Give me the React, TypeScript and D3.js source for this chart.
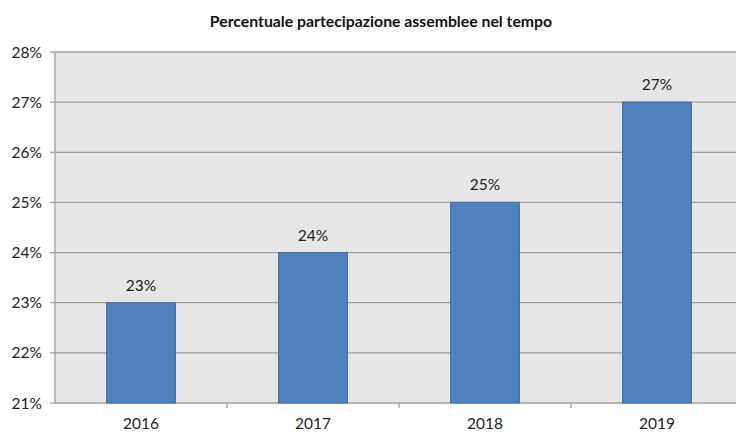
import React from "react";
import * as d3 from "d3";

const years = ["2016", "2017", "2018", "2019"];
const values = [23, 24, 25, 27];
const yTicks = [21, 22, 23, 24, 25, 26, 27, 28];
const title = "Percentuale partecipazione assemblee nel tempo";

export default function App() {
  const W = 736, H = 432;
  const left = 55, right = 743, top = 52, bottom = 403;
  const x = d3.scaleBand<string>().domain(years).range([left, right]).paddingInner(0.6).paddingOuter(0.3);
  const y = d3.scaleLinear().domain([21, 28]).range([bottom, top]);
  const step = x.step();
  const font = "Lato, 'Open Sans', sans-serif";
  return (
    <svg width={W} height={H} style={{ position: "absolute", left: 0, top: 0, background: "#fff" }}>
      <rect x={left} y={top} width={right - left} height={bottom - top} fill="#e6e6e6" />
      {yTicks.map((t) => (
        <g key={t}>
          <line x1={left} x2={right} y1={y(t)} y2={y(t)} stroke="#a0a0a0" strokeWidth={1.3} />
          <line x1={left - 5} x2={left} y1={y(t)} y2={y(t)} stroke="#a0a0a0" strokeWidth={1.3} />
          <text x={42} y={y(t)} dy="0.36em" textAnchor="end" fontFamily={font} fontSize={15.5} fill="#222">
            {t}%
          </text>
        </g>
      ))}
      <line x1={left} x2={left} y1={top} y2={bottom} stroke="#a0a0a0" strokeWidth={1.3} />
      {years.map((yr, i) => (
        <line key={"tk" + yr} x1={left + step * (i + 1)} x2={left + step * (i + 1)} y1={bottom} y2={bottom + 5} stroke="#a0a0a0" strokeWidth={1.3} />
      ))}
      {years.map((yr, i) => (
        <g key={yr}>
          <rect x={x(yr)!} y={y(values[i])} width={x.bandwidth()} height={bottom - y(values[i])} fill="#4f81bd" stroke="#3d6a9f" strokeWidth={1} />
          <text x={x(yr)! + x.bandwidth() / 2} y={y(values[i]) - 12} textAnchor="middle" fontFamily={font} fontSize={15.5} fill="#222">
            {values[i]}%
          </text>
          <text x={x(yr)! + x.bandwidth() / 2} y={429} textAnchor="middle" fontFamily={font} fontSize={15.5} fill="#222">
            {yr}
          </text>
        </g>
      ))}
      <text x={381} y={27} textAnchor="middle" fontFamily={font} fontWeight="bold" fontSize={15.8} fill="#111">
        {title}
      </text>
    </svg>
  );
}
